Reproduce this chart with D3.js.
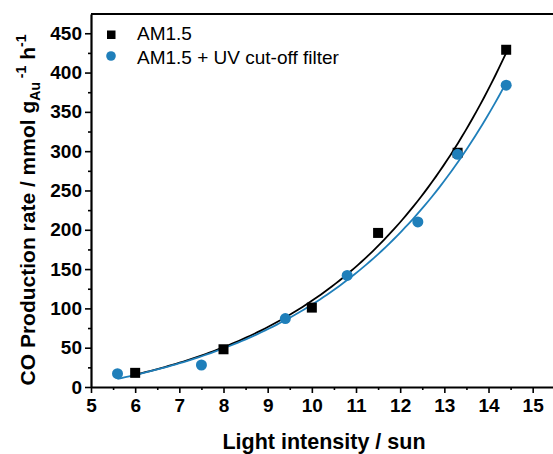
<!DOCTYPE html>
<meta charset="utf-8">
<html lang="en"></html>

<script src="https://d3js.org/d3.v7.min.js"></script>

<style>
    body { margin: 0; background: #fff; }
    text { font-family: "Liberation Sans", Arial, sans-serif; }
</style>

<div id="chart"></div>

<script>

    // data
    const amX = [6, 8, 10, 11.5, 13.3, 14.4];
    const amY = [18, 48, 101, 196, 298, 429];
    const uvX = [5.6, 7.5, 9.4, 10.8, 12.4, 13.3, 14.4];
    const uvY = [17, 28, 87, 142, 210, 296, 384];
    const xTicks = [5, 6, 7, 8, 9, 10, 11, 12, 13, 14, 15];
    const yTicks = [0, 50, 100, 150, 200, 250, 300, 350, 400, 450];

    const W = 553, H = 454;
    const margin = {top: 14, right: 0, bottom: 67, left: 91};
    const width = W - margin.left - margin.right,
        height = H - margin.top - margin.bottom;
    const blue = "#1f7fba";

    const svg = d3.select("#chart")
        .append("svg")
            .attr("width", W)
            .attr("height", H);
    const g = svg.append("g")
        .attr("transform", "translate(" + margin.left + "," + margin.top + ")");

    const x = d3.scaleLinear().domain([5, 15.46]).range([0, width]);
    const y = d3.scaleLinear().domain([0, 474.5]).range([height, 0]);

    // exponential fit y = A*exp(b*x) + c : grid search b, linear least squares for A, c
    function expFit(xs, ys) {
        let best = null;
        for (let b = 0.05; b <= 1.0; b += 0.0005) {
            const e = xs.map(v => Math.exp(b * v));
            const n = xs.length;
            const se = d3.sum(e), sy = d3.sum(ys);
            const see = d3.sum(e, v => v * v);
            const sey = d3.sum(e.map((v, i) => v * ys[i]));
            const A = (n * sey - se * sy) / (n * see - se * se);
            const c = (sy - A * se) / n;
            const err = d3.sum(xs.map((v, i) => Math.pow(A * e[i] + c - ys[i], 2)));
            if (!best || err < best.err) best = {A: A, b: b, c: c, err: err};
        }
        return best;
    }

    function fitLine(xs, ys, color) {
        const f = expFit(xs, ys);
        const pts = d3.range(0, 101).map(i => {
            const xv = d3.min(xs) + (d3.max(xs) - d3.min(xs)) * i / 100;
            return [xv, f.A * Math.exp(f.b * xv) + f.c];
        });
        g.append("path")
            .datum(pts)
            .attr("fill", "none")
            .attr("stroke", color)
            .attr("stroke-width", 1.8)
            .attr("d", d3.line().x(d => x(d[0])).y(d => y(d[1])));
    }

    fitLine(amX, amY, "#000");
    fitLine(uvX, uvY, blue);

    // points
    g.selectAll(".sq")
        .data(amX)
        .enter()
        .append("rect")
            .attr("x", d => x(d) - 5)
            .attr("y", (d, i) => y(amY[i]) - 5)
            .attr("width", 10)
            .attr("height", 10)
            .attr("fill", "#000");
    g.selectAll(".dot")
        .data(uvX)
        .enter()
        .append("circle")
            .attr("cx", d => x(d))
            .attr("cy", (d, i) => y(uvY[i]))
            .attr("r", 5.5)
            .attr("fill", blue);

    // X axis
    const xAxis = g.append("g")
        .attr("transform", "translate(0," + height + ")")
        .call(d3.axisBottom(x).tickValues(xTicks).tickSize(6).tickSizeOuter(0).tickPadding(6));
    g.append("g")
        .attr("transform", "translate(0," + height + ")")
        .call(d3.axisBottom(x).tickValues(d3.range(5.5, 15.5, 1)).tickSize(3).tickFormat(""))
        .select(".domain").remove();

    // Y axis
    const yAxis = g.append("g")
        .call(d3.axisLeft(y).tickValues(yTicks).tickSize(6).tickSizeOuter(0).tickPadding(3));
    g.append("g")
        .call(d3.axisLeft(y).tickValues(d3.range(25, 475, 50)).tickSize(3).tickFormat(""))
        .select(".domain").remove();

    [xAxis, yAxis].forEach(a => {
        a.select(".domain").attr("stroke-width", 2.2);
        a.selectAll("text")
            .attr("font-size", "19px")
            .attr("font-weight", "bold")
            .attr("fill", "#000");
    });
    g.selectAll(".tick line").attr("stroke-width", 1.6);

    // top border
    g.append("line")
        .attr("x1", 0).attr("x2", width)
        .attr("y1", 0).attr("y2", 0)
        .attr("stroke", "#000")
        .attr("stroke-width", 2.2);

    // axis titles
    svg.append("text")
        .attr("x", 324)
        .attr("y", 449)
        .attr("text-anchor", "middle")
        .attr("font-size", "21.5px")
        .attr("font-weight", "bold")
        .text("Light intensity / sun");

    const yt = svg.append("text")
        .attr("transform", "translate(35,210)rotate(-90)")
        .attr("text-anchor", "middle")
        .attr("font-size", "21px")
        .attr("font-weight", "bold");
    yt.append("tspan").text("CO Production rate / mmol g");
    yt.append("tspan").attr("font-size", "14px").attr("dy", 5).text("Au");
    yt.append("tspan").attr("font-size", "14px").attr("dy", -14).text(" -1");
    yt.append("tspan").attr("dy", 9).text(" h");
    yt.append("tspan").attr("font-size", "14px").attr("dy", -9).text("-1");

    // legend
    const legend = svg.append("g");
    legend.append("rect")
        .attr("x", 107).attr("y", 30.5)
        .attr("width", 8.5).attr("height", 8.5)
        .attr("fill", "#000");
    legend.append("circle")
        .attr("cx", 111).attr("cy", 56)
        .attr("r", 4.8)
        .attr("fill", blue);
    legend.append("text")
        .attr("x", 137).attr("y", 40)
        .attr("font-size", "19px")
        .text("AM1.5");
    legend.append("text")
        .attr("x", 137).attr("y", 63.5)
        .attr("font-size", "19px")
        .text("AM1.5 + UV cut-off filter");
</script>
